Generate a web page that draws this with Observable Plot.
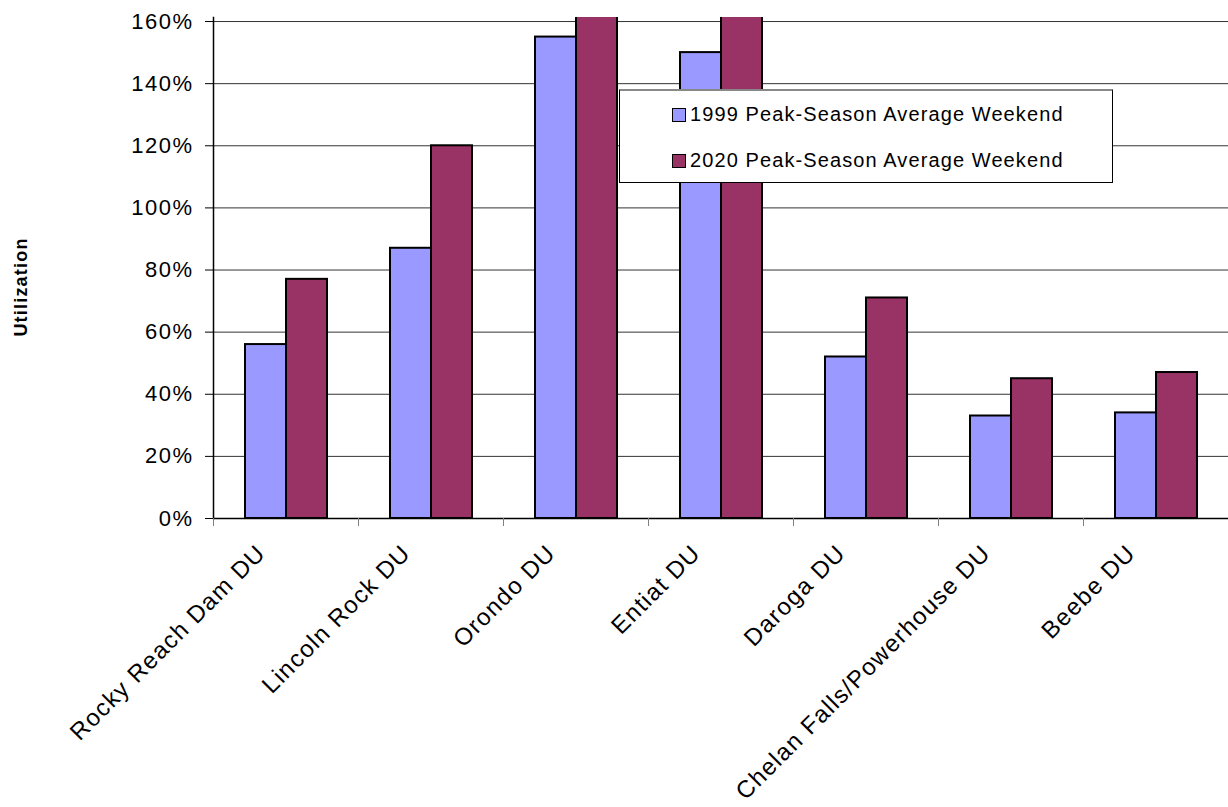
<!DOCTYPE html>
<html>
<head>
<meta charset="utf-8">
<script src="https://cdn.jsdelivr.net/npm/d3@7"></script>
<script src="https://cdn.jsdelivr.net/npm/@observablehq/plot@0.6"></script>
<style>
  html, body { margin: 0; padding: 0; background: #fff; }
  #wrap { position: relative; width: 1228px; height: 807px; font-family: "Liberation Sans", Arial, sans-serif; color: #000; }
  #wrap svg { position: absolute; left: 0; top: 0; }
  .chart g[aria-label="text"] text { letter-spacing: 1.3px; }
  .chart g[aria-label="y-axis tick label"] text { letter-spacing: 1.5px; }
  #ylabel { position: absolute; left: 21px; top: 287px; transform: translate(-50%, -50%) rotate(-90deg);
            white-space: nowrap; font-weight: bold; font-size: 18px; letter-spacing: 1.2px; }
  #legend { position: absolute; left: 619px; top: 89px; width: 492px; height: 91px; background: #fff;
            border: 1px solid #000; border-top: 2px solid #888; box-sizing: content-box; }
  .item { position: absolute; left: 52px; display: flex; align-items: center; font-size: 20px; letter-spacing: 1.1px; white-space: nowrap; }
  .sw { width: 12px; height: 12px; border: 1.5px solid #000; margin-right: 4px; }
</style>
</head>
<body>
<div id="wrap"></div>
<script>
// ---- data ----
const categories = [
  "Rocky Reach Dam DU",
  "Lincoln Rock DU",
  "Orondo DU",
  "Entiat DU",
  "Daroga DU",
  "Chelan Falls/Powerhouse DU",
  "Beebe DU"
];
const seriesKeys = ["1999", "2020"];
const seriesLabels = ["1999 Peak-Season Average Weekend", "2020 Peak-Season Average Weekend"];
const values1999 = [0.56, 0.87, 1.55, 1.50, 0.52, 0.33, 0.34];
// Orondo and Entiat 2020 run off the top of the chart (clipped); values estimated
const values2020 = [0.77, 1.20, 1.80, 1.75, 0.71, 0.45, 0.47];
const yTicks = [0, 0.2, 0.4, 0.6, 0.8, 1.0, 1.2, 1.4, 1.6];
const colors = ["#9999FF", "#993366"];

const data = categories.flatMap((c, i) => [
  {category: c, series: seriesKeys[0], value: values1999[i]},
  {category: c, series: seriesKeys[1], value: values2020[i]}
]);

// ---- layout ----
const W = 1228, H = 807, mL = 213, mR = 0, mT = 17, mB = 289;
const step = (W - mL - mR) / categories.length;
const FONT = '"Liberation Sans", Arial, sans-serif';

const chart = Plot.plot({
  className: "chart",
  width: W, height: H,
  marginLeft: mL, marginRight: mR, marginTop: mT, marginBottom: mB,
  style: {fontFamily: FONT, fontSize: "22px", color: "#000", background: "#fff"},
  fx: {domain: categories, padding: 0, label: null},
  x: {domain: seriesKeys, paddingInner: 0, paddingOuter: 0.727, axis: null},
  y: {domain: [0, 1.613], label: null},
  color: {domain: seriesKeys, range: colors},
  marks: [
    Plot.gridY({ticks: yTicks, stroke: "#000", strokeOpacity: 0.8, strokeWidth: 1}),
    Plot.barY(data, {fx: "category", x: "series", y: "value", fill: "series",
                     stroke: "#000", strokeWidth: 2, inset: 0, clip: true}),
    Plot.ruleY([0], {stroke: "#000", strokeWidth: 1.5}),
    Plot.frame({anchor: "left", facet: "super", stroke: "#000", strokeWidth: 1.5}),
    Plot.axisY({ticks: yTicks, tickFormat: d3.format(".0%"), tickSize: 8, tickPadding: 12,
                fontSize: 22, label: null, stroke: "#000", fill: "#000"}),
    Plot.axisFx({anchor: "bottom", tickSize: 8, tickFormat: () => "", dx: -step / 2, stroke: "#808080", label: null}),
    Plot.text(categories, {fx: d => d, text: d => d, frameAnchor: "bottom", rotate: -45,
                           textAnchor: "end", lineAnchor: "bottom", dx: -19, dy: 36, fontSize: 24, fill: "#000"})
  ]
});

const wrap = document.getElementById("wrap");
wrap.appendChild(chart);

const yl = document.createElement("div");
yl.id = "ylabel";
yl.textContent = "Utilization";
wrap.appendChild(yl);

const lg = document.createElement("div");
lg.id = "legend";
seriesLabels.forEach((s, i) => {
  const it = document.createElement("div");
  it.className = "item";
  it.style.top = (i === 0 ? 12 : 58) + "px";
  const sw = document.createElement("span");
  sw.className = "sw";
  sw.style.background = colors[i];
  const t = document.createElement("span");
  t.textContent = s;
  it.appendChild(sw);
  it.appendChild(t);
  lg.appendChild(it);
});
wrap.appendChild(lg);
</script>
</body>
</html>
